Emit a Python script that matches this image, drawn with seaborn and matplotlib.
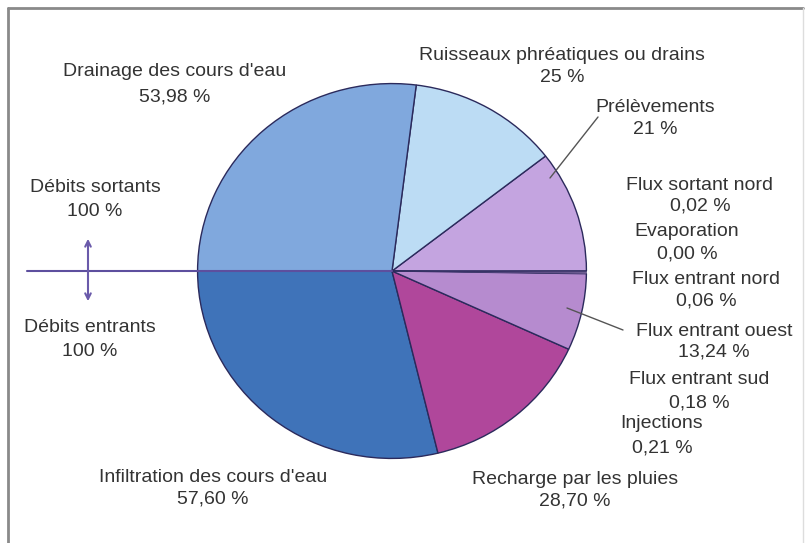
import matplotlib
matplotlib.use('Agg')
import matplotlib.pyplot as plt
import seaborn as sns

# débits sortants (moitié haute), de 0° vers 180°
out_labels = ["Evaporation", "Flux sortant nord", "Prélèvements",
              "Ruisseaux phréatiques ou drains", "Drainage des cours d'eau"]
out_values = [0.00, 0.02, 21.0, 25.0, 53.98]
out_colors = ["#c4a4e0", "#c4a4e0", "#c4a4e0", "#bcdcf4", "#80a8dd"]

# débits entrants (moitié basse), de 180° vers 360°
in_labels = ["Infiltration des cours d'eau", "Recharge par les pluies",
             "Flux entrant ouest", "Injections", "Flux entrant sud",
             "Flux entrant nord"]
in_values = [57.60, 28.70, 13.24, 0.21, 0.18, 0.06]
in_colors = ["#3f73b9", "#b0479b", "#b68bcf", "#b68bcf", "#b68bcf", "#b68bcf"]

sns.set_theme(style="white")
plt.rcParams['font.family'] = ['Liberation Sans', 'DejaVu Sans']

W, H = 806, 543
fig = plt.figure(figsize=(W / 100, H / 100), dpi=100)
fig.patch.set_facecolor('white')

# axe du camembert (légèrement elliptique comme l'original)
cx, cy, rx, ry = 392, 271, 195, 188
ax = fig.add_axes([(cx - rx) / W, (H - cy - ry) / H, 2 * rx / W, 2 * ry / H])
wedge_kw = dict(edgecolor='#2b2a5c', linewidth=1.0)
w_out, _ = ax.pie([v / 200 for v in out_values], colors=out_colors, startangle=0,
                  counterclock=True, normalize=False, wedgeprops=wedge_kw)
w_in, _ = ax.pie([v / 200 for v in in_values], colors=in_colors, startangle=180,
                 counterclock=True, normalize=False, wedgeprops=wedge_kw)
# les très petits secteurs ne gardent qu'un trait fin
for w, v in zip(list(w_out) + list(w_in), out_values + in_values):
    if v < 1:
        w.set_linewidth(0.3)
ax.set_aspect('auto')
ax.set_xlim(-1.003, 1.003)
ax.set_ylim(-1.003, 1.003)
ax.axis('off')

# calque en coordonnées "image" pour textes et traits
ov = fig.add_axes([0, 0, 1, 1], zorder=5)
ov.set_xlim(0, W)
ov.set_ylim(H, 0)
ov.axis('off')
ov.patch.set_alpha(0)

# cadre
ov.plot([8, 8], [8, H], color='#8a8a8a', lw=2)
ov.plot([8, 803], [8, 8], color='#8a8a8a', lw=2)
ov.plot([803, 803], [8, H], color='#dddddd', lw=1)

# séparation sortants / entrants
ov.plot([27, cx], [cy, cy], color='#5d4f9e', lw=1.5)
ov.annotate('', xy=(88, 236), xytext=(88, 304),
            arrowprops=dict(arrowstyle='<->', color='#6a5aaa', lw=1.5,
                            mutation_scale=10))

# traits de rappel
ov.plot([598, 550], [117, 178], color='#555555', lw=1)
ov.plot([623, 567], [330, 308], color='#555555', lw=1)

txt = dict(ha='center', va='center', fontsize=14, color='#333333')
labels = [
    ("Drainage des cours d'eau", "53,98 %", 175, 72, 97),
    ("Ruisseaux phréatiques ou drains", "25 %", 562, 55, 78),
    ("Prélèvements", "21 %", 655, 107, 130),
    ("Flux sortant nord", "0,02 %", 700, 186, 206),
    ("Evaporation", "0,00 %", 687, 232, 254),
    ("Flux entrant nord", "0,06 %", 706, 279, 301),
    ("Flux entrant ouest", "13,24 %", 714, 331, 352),
    ("Flux entrant sud", "0,18 %", 699, 380, 403),
    ("Injections", "0,21 %", 662, 423, 448),
    ("Recharge par les pluies", "28,70 %", 575, 480, 501),
    ("Infiltration des cours d'eau", "57,60 %", 213, 477, 499),
    ("Débits sortants", "100 %", 95, 188, 212),
    ("Débits entrants", "100 %", 90, 328, 352),
]
for name, pct, x, y1, y2 in labels:
    ov.text(x, y1, name, **txt)
    ov.text(x, y2, pct, **txt)

fig.savefig('out.png', dpi=100)
